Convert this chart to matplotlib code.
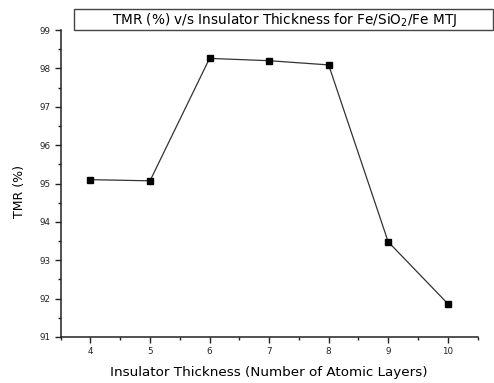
import numpy as np
import matplotlib
matplotlib.use('Agg')
import matplotlib.pyplot as plt
from matplotlib.patches import Rectangle

plt.rcParams['font.family'] = ['DejaVu Sans']

# data
layers = [4, 5, 6, 7, 8, 9, 10]
tmr = [95.10, 95.07, 98.26, 98.20, 98.09, 93.48, 91.87]

fig = plt.figure(figsize=(4.94, 3.83), dpi=100)
ax = fig.add_axes([60.7/494, 46/383, (477.5-60.7)/494, (337-30)/383])

ax.plot(layers, tmr, '-', color='#333333', lw=0.9)
ax.plot(layers, tmr, 's', color='black', ms=4.2)

ax.set_xlim(3.5, 10.5)
ax.set_ylim(91, 99)
ax.set_xticks(np.arange(4, 11, 1))
ax.set_xticks(np.arange(3.5, 10.6, 0.5), minor=True)
ax.set_yticks(np.arange(91, 100, 1))
ax.set_yticks(np.arange(91.5, 99, 1), minor=True)

for s in ['top', 'right']:
    ax.spines[s].set_visible(False)
for s in ['left', 'bottom']:
    ax.spines[s].set_linewidth(1.1)
    ax.spines[s].set_color('#222222')

ax.tick_params(which='major', direction='out', length=4.5, width=1, labelsize=6.3, pad=3, colors='#222222')
ax.tick_params(which='minor', direction='out', length=2.5, width=1, colors='#222222')

ax.set_xlabel('Insulator Thickness (Number of Atomic Layers)', fontsize=9.7, labelpad=7)
fig.text(20/494, 1 - 192/383, 'TMR (%)', rotation=90, fontsize=9, ha='center', va='center')

# title in a box
fig.patches.append(Rectangle((74/494, 1 - 30/383), (493-74)/494, 21/383,
                             transform=fig.transFigure, fill=False, ec='#444444', lw=1))
fig.text(285/494, 1 - 20/383, r'TMR (%) v/s Insulator Thickness for Fe/SiO$_2$/Fe MTJ',
         fontsize=9.8, ha='center', va='center')

fig.savefig('out.png', dpi=100)
